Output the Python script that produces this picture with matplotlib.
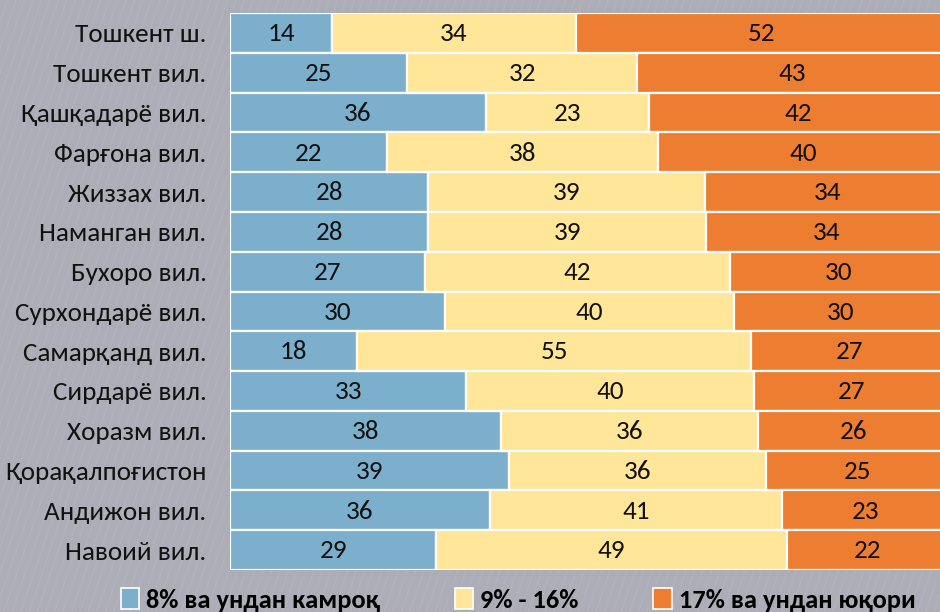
import matplotlib
matplotlib.use("Agg")
import matplotlib.pyplot as plt
from matplotlib.patches import Patch
import numpy as np

regions = ["Тошкент ш.", "Тошкент вил.", "Қашқадарё вил.", "Фарғона вил.", "Жиззах вил.",
           "Наманган вил.", "Бухоро вил.", "Сурхондарё вил.", "Самарқанд вил.", "Сирдарё вил.",
           "Хоразм вил.", "Қорақалпоғистон", "Андижон вил.", "Навоий вил."]
low = [14.2, 24.7, 35.6, 21.9, 27.6, 27.6, 27.2, 29.9, 17.7, 32.9, 37.7, 38.9, 36.2, 28.7]
mid = [34.0, 32.0, 22.8, 37.7, 38.6, 38.7, 42.4, 40.3, 54.9, 40.1, 35.9, 35.8, 40.7, 48.9]
high = [51.8, 43.3, 41.6, 40.4, 34.0, 33.7, 30.4, 29.8, 27.4, 27.0, 26.4, 25.3, 23.1, 22.4]
series_names = ["8% ва ундан камроқ", "9% - 16%", "17% ва ундан юқори"]
colors = ["#7BAFCB", "#FFE699", "#ED7D31"]

plt.rcParams['font.family'] = ['Carlito', 'Liberation Sans', 'DejaVu Sans']

fig = plt.figure(figsize=(9.4, 6.12), dpi=100)
fig.patch.set_facecolor("#ACADB7")

# subtle diagonal texture in background
bg = fig.add_axes([0, 0, 1, 1], zorder=-5)
bg.set_xlim(0, 1); bg.set_ylim(0, 1); bg.axis("off")
for x0 in np.arange(-0.5, 1.2, 0.009):
    bg.plot([x0, x0 + 0.22], [0, 1], color="#DDE6F0", alpha=0.10, lw=0.8)

ax = fig.add_axes([230 / 940, 42 / 612, 718 / 940, 557 / 612])
ax.set_facecolor("white")
y = np.arange(len(regions))
left = np.zeros(len(regions))
for vals, c in zip([low, mid, high], colors):
    vals = np.array(vals, dtype=float)
    ax.barh(y, vals, left=left, height=1.0, color=c, edgecolor="white", linewidth=1.6)
    for yi, l, v in zip(y, left, vals):
        ax.text(l + v / 2, yi + 0.02, f"{v:.0f}", ha="center", va="center", fontsize=19.5, color="#111111")
    left += vals

ax.set_xlim(0, 100)
ax.set_ylim(len(regions) - 0.5, -0.5)
ax.set_yticks(y)
ax.set_yticklabels(regions, fontsize=19.5, color="#111111")
ax.tick_params(axis="y", length=0, pad=17)
ax.set_xticks([])
for s in ax.spines.values():
    s.set_visible(False)

handles = [Patch(facecolor=c, edgecolor="white", linewidth=1.2) for c in colors]
leg = fig.legend(handles, series_names, loc="center", bbox_to_anchor=(0.551, 0.020), ncol=3,
                 frameon=False, handlelength=0.7, handleheight=0.85, handletextpad=0.25,
                 columnspacing=2.85, prop={"size": 19, "weight": "bold"})

fig.savefig("out.png", dpi=100, facecolor=fig.get_facecolor())
